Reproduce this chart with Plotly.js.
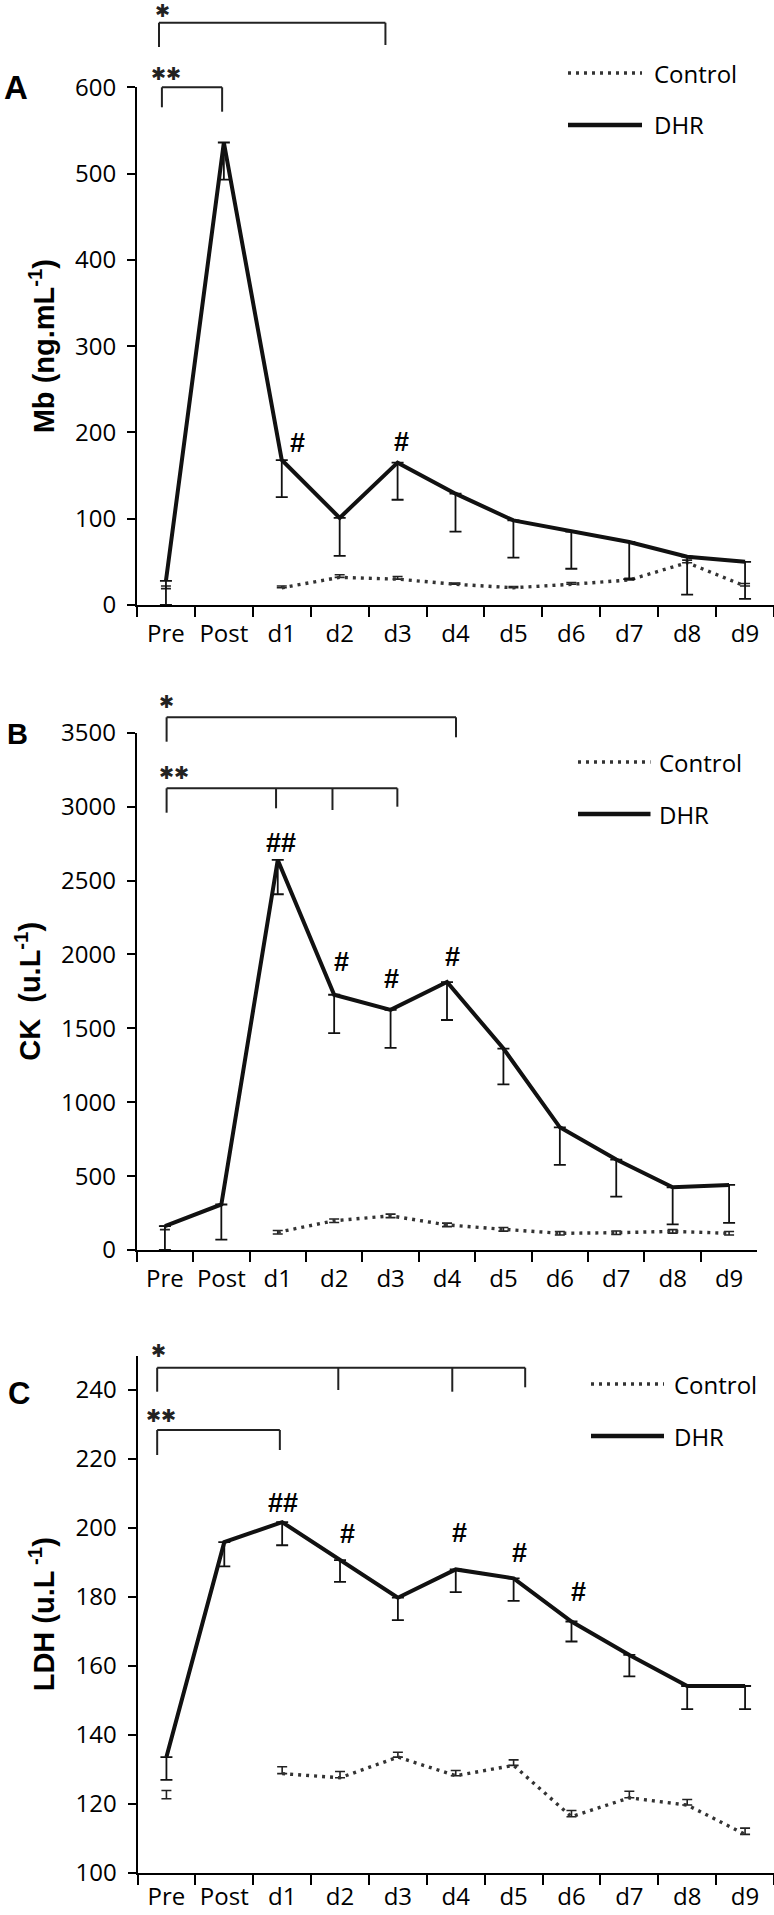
<!DOCTYPE html>
<html>
<head>
<meta charset="utf-8">
<script src="https://cdn.plot.ly/plotly-3.0.1.min.js"></script>
<style>html,body{margin:0;padding:0;background:#fff;}#chart{width:774px;height:1915px;}</style>
</head>
<body>
<div id="chart"></div>
<script>
// ---------------- data ----------------
const categories = ['Pre', 'Post', 'd1', 'd2', 'd3', 'd4', 'd5', 'd6', 'd7', 'd8', 'd9'];

// Panel A: Mb (ng.mL-1)
const mbDHR      = [28, 536, 168, 101, 165, 129, 98, 85, 73, 56, 50];
const mbDHRerr   = [28, 43, 43, 44, 43, 44, 43, 43, 43, 44, 43];
const mbControl  = [19, null, 20, 32, 30, 24, 20, 24, 29, 49, 22];
const mbCtrlErr  = [3, null, 2, 3, 3, 1.5, 1.5, 2, 2, 3, 3];

// Panel B: CK (u.L-1)
const ckDHR      = [162, 308, 2639, 1727, 1625, 1813, 1363, 830, 612, 424, 440];
const ckDHRerr   = [162, 238, 232, 259, 257, 257, 243, 254, 251, 250, 256];
const ckControl  = [150, null, 120, 198, 231, 170, 140, 113, 117, 126, 113];
const ckCtrlErr  = [12, null, 12, 12, 12, 12, 12, 12, 12, 12, 12];

// Panel C: LDH (u.L-1)
const ldhDHR     = [133.6, 195.9, 201.7, 190.7, 179.8, 188, 185.4, 172.9, 163.2, 154.2, 154.2];
const ldhDHRerr  = [6.6, 7, 6.7, 6.3, 6.5, 6.6, 6.5, 5.8, 6.2, 6.7, 6.7];
const ldhControl = [121.5, null, 128.8, 127.6, 133.6, 128.2, 131.2, 116.3, 121.8, 119.7, 111.2];
const ldhCtrlErr = [2.4, null, 2, 1.8, 1.4, 1.5, 1.6, 1.8, 1.9, 1.6, 1.8];

const seriesNames = ['Control', 'DHR'];

// ---------------- layout helpers ----------------
const W = 774, H = 1915;
const px = x => x / W;
const py = y => 1 - y / H;
const TICKFONT = {family: 'Open Sans, Lato, sans-serif', size: 24, color: '#000'};
const BOLD = 'Liberation Sans, Arial, sans-serif';
const DHRLINE = {color: '#111', width: 4};
const CTRLLINE = {color: '#333', width: 3.4, dash: '3px,5px'};

const panels = [
  {letter: 'A', xa: 'x',  ya: 'y',  xPx: [137, 774],   yPx: [605, 87.3],   range: [0, 600],  dtick: 100, xStandoff: 6,
   title: 'Mb (ng.mL<sup>-1</sup>)', dhr: mbDHR, dhrErr: mbDHRerr, ctl: mbControl, ctlErr: mbCtrlErr, ctlSym: false,
   letterPos: [16, 88, 33],
   legend: {line: [568, 642], text: 652, y: [73, 125]},
   stars: [{t: '✱', x: 162.5, y: 10.5}, {t: '✱✱', x: 166, y: 74}],
   brackets: [{y: 22.7, drops: [[-0.12, 47], [3.79, 45]]},
              {y: 87.3, drops: [[-0.07, 107.3], [0.97, 111.7]]}],
   hashes: [{i: 2, t: '#', dx: 16, dy: 17}, {i: 4, t: '#', dx: 4, dy: 21}]},
  {letter: 'B', xa: 'x2', ya: 'y2', xPx: [136.7, 757.3], yPx: [1250, 732.7], range: [0, 3500], dtick: 500, xStandoff: 6,
   title: 'CK  (u.L<sup>-1</sup>)', dhr: ckDHR, dhrErr: ckDHRerr, ctl: ckControl, ctlErr: ckCtrlErr, ctlSym: true,
   letterPos: [17, 734, 29],
   legend: {line: [578, 650.5], text: 657, y: [762, 814]},
   stars: [{t: '✱', x: 166.7, y: 701.7}, {t: '✱✱', x: 174, y: 772.7}],
   brackets: [{y: 717.3, drops: [[0.03, 741.7], [5.16, 737.3]]},
              {y: 788.3, drops: [[0.03, 812.7], [1.97, 808.3], [2.97, 810], [4.12, 806.7]]}],
   hashes: [{i: 2, t: '##', dx: 3, dy: 17}, {i: 3, t: '#', dx: 7, dy: 33}, {i: 4, t: '#', dx: 1, dy: 31}, {i: 5, t: '#', dx: 5, dy: 25}]},
  {letter: 'C', xa: 'x3', ya: 'y3', xPx: [137.5, 774], yPx: [1873, 1355.5], range: [100, 250], dtick: 20, xStandoff: 1,
   title: 'LDH (u.L<sup> -1</sup>)', dhr: ldhDHR, dhrErr: ldhDHRerr, ctl: ldhControl, ctlErr: ldhCtrlErr, ctlSym: false,
   letterPos: [19, 1393, 31],
   legend: {line: [591, 664], text: 672, y: [1384, 1436]},
   stars: [{t: '✱', x: 158, y: 1350}, {t: '✱✱', x: 160.7, y: 1415}],
   brackets: [{y: 1367.7, drops: [[-0.16, 1391.7], [2.97, 1390], [4.94, 1391.7], [6.2, 1387.3]]},
              {y: 1430, drops: [[-0.16, 1455], [1.96, 1450]]}],
   hashes: [{i: 2, t: '##', dx: 1, dy: 19}, {i: 3, t: '#', dx: 7, dy: 26}, {i: 5, t: '#', dx: 4, dy: 36}, {i: 6, t: '#', dx: 6, dy: 25}, {i: 7, t: '#', dx: 7, dy: 29}]}
];

const traces = [];
const layout = {
  width: W, height: H,
  margin: {l: 0, r: 0, t: 0, b: 0, pad: 0},
  paper_bgcolor: '#fff', plot_bgcolor: '#fff',
  showlegend: false,
  shapes: [], annotations: []
};

panels.forEach((p, k) => {
  const sfx = k === 0 ? '' : String(k + 1);
  const catX = i => (p.xPx[0] + (i + 0.5) * (p.xPx[1] - p.xPx[0]) / categories.length);

  layout['xaxis' + sfx] = {
    domain: [px(p.xPx[0]), px(p.xPx[1])], anchor: p.ya,
    type: 'category', categoryorder: 'array', categoryarray: categories,
    range: [-0.5, categories.length - 0.5],
    showline: true, linecolor: '#000', linewidth: 2,
    ticks: 'outside', tickson: 'boundaries', ticklen: 10, tickwidth: 2, tickcolor: '#000',
    tickangle: 0, ticklabelstandoff: p.xStandoff,
    showgrid: false, zeroline: false, tickfont: TICKFONT, fixedrange: true
  };
  layout['yaxis' + sfx] = {
    domain: [py(p.yPx[0]), py(p.yPx[1])], anchor: p.xa,
    range: p.range, tick0: p.range[0], dtick: p.dtick,
    showline: true, linecolor: '#000', linewidth: 2,
    ticks: 'outside', ticklen: 8, tickwidth: 2, tickcolor: '#000',
    ticklabelstandoff: 6,
    showgrid: false, zeroline: false, tickfont: TICKFONT, fixedrange: true,
    title: {text: '<b>' + p.title + '</b>', font: {family: BOLD, size: 29, color: '#000'}, standoff: 12}
  };

  // Control (dotted) series
  traces.push({
    type: 'scatter', mode: 'lines', name: seriesNames[0],
    x: categories, y: p.ctl, xaxis: p.xa, yaxis: p.ya,
    line: CTRLLINE, connectgaps: false, hoverinfo: 'skip',
    error_y: p.ctlSym
      ? {type: 'data', array: p.ctlErr, symmetric: true, color: '#222', thickness: 1.6, width: 5}
      : {type: 'data', array: p.ctlErr, arrayminus: p.ctlErr.map(() => 0), symmetric: false, color: '#222', thickness: 1.6, width: 5}
  });
  // DHR (solid) series with downward error bars
  traces.push({
    type: 'scatter', mode: 'lines', name: seriesNames[1],
    x: categories, y: p.dhr, xaxis: p.xa, yaxis: p.ya,
    line: DHRLINE, hoverinfo: 'skip',
    error_y: {type: 'data', array: p.dhr.map(() => 0), arrayminus: p.dhrErr, symmetric: false,
              color: '#111', thickness: 1.8, width: 6}
  });

  // panel letter
  layout.annotations.push({
    xref: 'paper', yref: 'paper', x: px(p.letterPos[0]), y: py(p.letterPos[1]),
    xanchor: 'center', yanchor: 'middle', showarrow: false,
    text: '<b>' + p.letter + '</b>', font: {family: BOLD, size: p.letterPos[2], color: '#000'}
  });

  // manual legend
  [CTRLLINE, DHRLINE].forEach((ln, j) => {
    layout.shapes.push({
      type: 'line', xref: 'paper', yref: 'paper',
      x0: px(p.legend.line[0]), x1: px(p.legend.line[1]),
      y0: py(p.legend.y[j]), y1: py(p.legend.y[j]),
      line: {color: ln.color, width: j === 0 ? ln.width : 4.5, dash: ln.dash || 'solid'}
    });
    layout.annotations.push({
      xref: 'paper', yref: 'paper', x: px(p.legend.text), y: py(p.legend.y[j]),
      xanchor: 'left', yanchor: 'middle', showarrow: false,
      text: seriesNames[j], font: TICKFONT
    });
  });

  // significance brackets
  p.brackets.forEach(b => {
    const xs = b.drops.map(d => catX(d[0]));
    layout.shapes.push({
      type: 'line', xref: 'paper', yref: 'paper',
      x0: px(Math.min(...xs)), x1: px(Math.max(...xs)), y0: py(b.y), y1: py(b.y),
      line: {color: '#222', width: 2}
    });
    b.drops.forEach(d => {
      layout.shapes.push({
        type: 'line', xref: 'paper', yref: 'paper',
        x0: px(catX(d[0])), x1: px(catX(d[0])), y0: py(b.y), y1: py(d[1]),
        line: {color: '#222', width: 2}
      });
    });
  });
  p.stars.forEach(s => {
    layout.annotations.push({
      xref: 'paper', yref: 'paper', x: px(s.x), y: py(s.y),
      xanchor: 'center', yanchor: 'middle', showarrow: false,
      text: s.t, font: {family: 'DejaVu Sans, sans-serif', size: 18, color: '#222'}
    });
  });

  // "#" markers tied to the DHR points
  p.hashes.forEach(h => {
    layout.annotations.push({
      xref: p.xa, yref: p.ya, x: categories[h.i], y: p.dhr[h.i],
      xshift: h.dx, yshift: h.dy, xanchor: 'center', yanchor: 'middle', showarrow: false,
      text: '<b>' + h.t + '</b>', font: {family: BOLD, size: 27, color: '#000'}
    });
  });
});

Plotly.newPlot('chart', traces, layout, {staticPlot: true, displayModeBar: false});
</script>
</body>
</html>
